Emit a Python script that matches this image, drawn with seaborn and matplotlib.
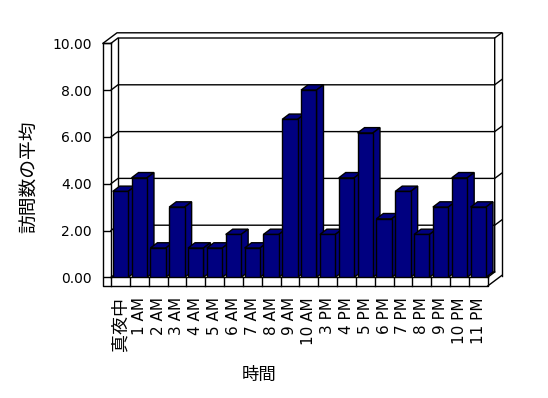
import matplotlib
matplotlib.use("Agg")
import matplotlib.pyplot as plt
import seaborn as sns
from matplotlib.lines import Line2D
from matplotlib.patches import Polygon
from matplotlib.ticker import FormatStrFormatter
from matplotlib.transforms import IdentityTransform

# Average number of visits per hour of the day
hours = ["真夜中", "1 AM", "2 AM", "3 AM", "4 AM", "5 AM", "6 AM", "7 AM",
         "8 AM", "9 AM", "10 AM", "3 PM", "4 PM", "5 PM", "6 PM", "7 PM",
         "8 PM", "9 PM", "10 PM", "11 PM"]
visits = [3.67, 4.25, 1.25, 3.00, 1.25, 1.25, 1.83, 1.25, 1.83, 6.75,
          8.00, 1.83, 4.25, 6.17, 2.50, 3.67, 1.83, 3.00, 4.25, 3.00]
y_ticks = [0, 2, 4, 6, 8, 10]

BAR_COLOR = "#000080"
DEPTH = (7.0, 5.3)     # px shift from front plane to back wall
OUTER = (14.0, 10.5)   # px shift from front plane to outer wall edge
WALL = 8.0             # px, thickness of the left wall
FLOOR = 8.7            # px, thickness of the floor

plt.rcParams["font.family"] = ["DejaVu Sans", "Noto Sans CJK JP"]

fig = plt.figure(figsize=(5.48, 3.98), dpi=100)
ax = fig.add_axes([111 / 548, (398 - 277.3) / 398, 376.7 / 548, 234 / 398])

sns.barplot(x=hours, y=visits, color=BAR_COLOR, saturation=1, width=0.82,
            edgecolor="black", linewidth=1, ax=ax)

ax.set_xlim(-0.5, len(hours) - 0.5)
ax.set_ylim(0, 10)
ax.set_yticks(y_ticks)
ax.yaxis.set_major_formatter(FormatStrFormatter("%.2f"))
ax.set_facecolor("none")
for side in ["top", "right"]:
    ax.spines[side].set_visible(False)
for side in ["left", "bottom"]:
    ax.spines[side].set_color("black")
    ax.spines[side].set_linewidth(1)

ax.tick_params(axis="y", direction="out", length=5.76, width=1, color="black",
               pad=7.9, labelsize=10)
ax.tick_params(axis="x", length=0, pad=14.4, labelsize=11, labelrotation=90)
ax.get_xticklabels()[0].set_fontsize(13)

ax.set_ylabel("訪問数の平均", fontsize=13.5)
ax.set_xlabel("時間", fontsize=12.5)
ax.yaxis.set_label_coords(-0.19, 0.431)
ax.xaxis.set_label_coords(0.394, -0.377)

x_lo, x_hi = -0.5, len(hours) - 0.5


def px(x, y, off=(0, 0)):
    """Data point -> display pixels, shifted by a pixel offset."""
    X, Y = ax.transData.transform((x, y))
    return X + off[0], Y + off[1]


def line(points, z=1):
    xs = [p[0] for p in points]
    ys = [p[1] for p in points]
    ax.add_artist(Line2D(xs, ys, transform=IdentityTransform(), color="black",
                         lw=1, clip_on=False, zorder=z))


def poly(points, z):
    ax.add_artist(Polygon(points, closed=True, transform=IdentityTransform(),
                          facecolor=BAR_COLOR, edgecolor="black", lw=1,
                          clip_on=False, zorder=z))


# back wall and its gridlines
for lv in y_ticks:
    pts = [px(x_lo, lv), px(x_lo, lv, DEPTH), px(x_hi, lv, DEPTH)]
    if lv > 0:
        pts.append(px(x_hi, lv, OUTER))
    line(pts)
line([px(x_lo, 0, DEPTH), px(x_lo, 10, DEPTH)])
line([px(x_hi, 0), px(x_hi, 0, DEPTH), px(x_hi, 10, DEPTH)])
line([px(x_hi, 0, (OUTER[0], OUTER[1] - FLOOR)), px(x_hi, 10, OUTER)])
line([px(x_hi, 0, (0, -FLOOR)), px(x_hi, 0, (OUTER[0], OUTER[1] - FLOOR))])
line([px(x_lo, 10, (-WALL, 0)), px(x_lo, 10, (OUTER[0] - WALL, OUTER[1])),
      px(x_hi, 10, OUTER)])

# 3D faces of the bars, painted left to right
for i, patch in enumerate(ax.patches):
    x0 = patch.get_x()
    x1 = x0 + patch.get_width()
    h = patch.get_height()
    z = 3 + 0.01 * i
    poly([px(x0, h), px(x1, h), px(x1, h, DEPTH), px(x0, h, DEPTH)], z)
    poly([px(x1, 0), px(x1, h), px(x1, h, DEPTH), px(x1, 0, DEPTH)], z)
    patch.set_zorder(z + 0.005)

# left wall and floor front faces
line([px(x_lo, 10, (-WALL, 0)), px(x_lo, 10)], z=5)
line([px(x_lo, 10, (-WALL, 0)), px(x_lo, 0, (-WALL, -FLOOR)),
      px(x_hi, 0, (0, -FLOOR)), px(x_hi, 0)], z=5)
for k in range(len(hours)):
    line([px(k - 0.5, 0), px(k - 0.5, 0, (0, -FLOOR))], z=5)

fig.savefig("out.png", dpi=100)
